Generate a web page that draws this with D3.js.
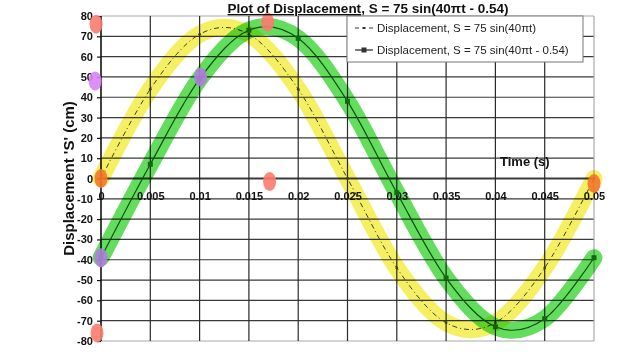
<!DOCTYPE html>
<html lang="en">
<head>
<meta charset="utf-8">
<title>Plot of Displacement</title>
<style>
  body { margin: 0; background: #fff; }
  svg { display: block; font-family: "Liberation Sans", Arial, sans-serif; }
  .tick-y text, .tick-x text { font-weight: bold; font-size: 11px; fill: #111; }
  .band { fill: none; stroke-linecap: round; stroke-linejoin: round; mix-blend-mode: multiply; }
</style>
</head>
<body>
<svg id="chart" width="640" height="360"></svg>
<script src="https://d3js.org/d3.v7.min.js"></script>
<script>
// data
var times = [0, 0.005, 0.01, 0.015, 0.02, 0.025, 0.03, 0.035, 0.04, 0.045, 0.05];
var sPlain = [0, 44, 71, 71, 44, 0, -44, -71, -71, -44, 0];       // S = 75 sin(40πt)
var sShift = [-39, 7, 49, 73, 69, 38, -7, -49, -73, -69, -39];    // S = 75 sin(40πt - 0.54)
var xTicks = [0, 0.005, 0.01, 0.015, 0.02, 0.025, 0.03, 0.035, 0.04, 0.045, 0.05];
var xTickLabels = ['0', '0.005', '0.01', '0.015', '0.02', '0.025', '0.03', '0.035', '0.04', '0.045', '0.05'];
var yTicks = [-80, -70, -60, -50, -40, -30, -20, -10, 0, 10, 20, 30, 40, 50, 60, 70, 80];
var seriesNames = ['Displacement, S = 75 sin(40\u03c0t)', 'Displacement, S = 75 sin(40\u03c0t - 0.54)'];

// hand drawn marker blobs (in data units)
var blobT = [-0.0005, -0.0006, 0, 0, -0.0004, 0.0169, 0.0171, 0.0101, 0.05];
var blobS = [76, 48, 0, -39, -76, 77, -1.5, 50, -2.5];
var blobKind = ['salmon', 'magenta', 'orange', 'purple', 'salmon', 'salmon', 'salmon', 'purple', 'orange'];

var svg = d3.select('#chart');
var plot = {left: 101, right: 594, top: 16, bottom: 341};

var x = d3.scaleLinear().domain([0, 0.05]).range([plot.left, plot.right]);
var y = d3.scaleLinear().domain([-80, 80]).range([plot.bottom, plot.top]);

var blobColor = {salmon: '#f97b6e', magenta: '#d884f2', orange: '#f5762a', purple: '#b07ee0'};

// grid
var grid = svg.append('g');
grid.selectAll('line.h').data(yTicks).enter().append('line')
    .attr('x1', plot.left).attr('x2', plot.right)
    .attr('y1', function(d) { return y(d); }).attr('y2', function(d) { return y(d); })
    .attr('stroke', function(d) { return (d === 80 || d === -80) ? '#aaa' : '#3a3a3a'; })
    .attr('stroke-width', function(d) { return d === 0 ? 1.8 : 1.2; });
grid.selectAll('line.v').data(xTicks).enter().append('line')
    .attr('y1', plot.top).attr('y2', plot.bottom)
    .attr('x1', function(d) { return x(d); }).attr('x2', function(d) { return x(d); })
    .attr('stroke', function(d) { return d === 0.05 ? '#aaa' : (d === 0 ? '#111' : '#2a2a2a'); })
    .attr('stroke-width', function(d) { return d === 0 ? 1.6 : 1.2; });

// axes
var yAxis = svg.append('g').attr('class', 'tick-y')
    .attr('transform', 'translate(' + plot.left + ',0)')
    .call(d3.axisLeft(y).tickValues(yTicks).tickSize(4).tickPadding(4)
        .tickFormat(function(d) { return String(d); }));
yAxis.select('.domain').remove();
yAxis.selectAll('.tick line').attr('stroke', '#111').attr('stroke-width', 1.2);

var xAxis = svg.append('g').attr('class', 'tick-x')
    .attr('transform', 'translate(0,' + y(0) + ')')
    .call(d3.axisBottom(x).tickValues(xTicks).tickSize(0).tickPadding(14)
        .tickFormat(function(d, i) { return xTickLabels[i]; }));
xAxis.select('.domain').remove();

// lines
var line = d3.line()
    .x(function(d, i) { return x(times[i]); })
    .y(function(d) { return y(d); })
    .curve(d3.curveCardinal);

svg.append('path').datum(sPlain)
    .attr('d', line).attr('fill', 'none')
    .attr('stroke', '#444').attr('stroke-width', 1)
    .attr('stroke-dasharray', '5,3,1,3');
svg.selectAll('circle.p1').data(sPlain).enter().append('circle')
    .attr('cx', function(d, i) { return x(times[i]); })
    .attr('cy', function(d) { return y(d); })
    .attr('r', 1.4).attr('fill', '#444');

svg.append('path').datum(sShift)
    .attr('d', line).attr('fill', 'none')
    .attr('stroke', '#1e5e1e').attr('stroke-width', 1.2);
svg.selectAll('rect.p2').data(sShift).enter().append('rect')
    .attr('x', function(d, i) { return x(times[i]) - 2.5; })
    .attr('y', function(d) { return y(d) - 2.5; })
    .attr('width', 5).attr('height', 5).attr('fill', '#2b7a2b');

// highlighter strokes
svg.append('path').datum(sPlain).attr('class', 'band')
    .attr('d', line).attr('stroke', '#f5ef5c').attr('stroke-width', 17).attr('opacity', 0.95);
svg.append('path').datum(sShift).attr('class', 'band')
    .attr('d', line).attr('stroke', '#5cdc56').attr('stroke-width', 17).attr('opacity', 0.95);

// blobs
svg.selectAll('ellipse.blob').data(blobT).enter().append('ellipse')
    .attr('cx', function(d) { return x(d); })
    .attr('cy', function(d, i) { return y(blobS[i]); })
    .attr('rx', 6.5).attr('ry', 9.5)
    .attr('opacity', 0.9)
    .attr('fill', function(d, i) { return blobColor[blobKind[i]]; });

// legend
var lg = svg.append('g').attr('transform', 'translate(347,16)');
lg.append('rect').attr('width', 236).attr('height', 46)
    .attr('fill', '#fff').attr('stroke', '#777').attr('stroke-width', 1);
var rows = lg.selectAll('g.row').data(seriesNames).enter().append('g')
    .attr('transform', function(d, i) { return 'translate(0,' + (12 + i * 22) + ')'; });
rows.append('line').attr('x1', 8).attr('x2', 26).attr('y1', 0).attr('y2', 0)
    .attr('stroke', '#333').attr('stroke-width', function(d, i) { return i ? 1.3 : 1; })
    .attr('stroke-dasharray', function(d, i) { return i ? null : '4,3'; });
rows.append('rect')
    .attr('x', function(d, i) { return i ? 14.5 : 16; })
    .attr('y', function(d, i) { return i ? -2.5 : -1; })
    .attr('width', function(d, i) { return i ? 5 : 2; })
    .attr('height', function(d, i) { return i ? 5 : 2; })
    .attr('fill', '#333');
rows.append('text').attr('x', 30).attr('y', 4)
    .attr('font-size', 11.5).attr('fill', '#222')
    .text(function(d) { return d; });

// titles
var title = svg.append('text').attr('x', 368).attr('y', 13)
    .attr('text-anchor', 'middle').attr('font-size', 13.5).attr('font-weight', 'bold').attr('fill', '#111');
title.append('tspan').attr('text-decoration', 'underline').text('Plot of Displacement');
title.append('tspan').text(', S = 75 sin(40\u03c0t - 0.54)');

svg.append('text').attr('x', 500).attr('y', 166)
    .attr('font-size', 13).attr('font-weight', 'bold').attr('fill', '#111')
    .text('Time (s)');

svg.append('text')
    .attr('transform', 'translate(74,' + (plot.top + plot.bottom) / 2 + ') rotate(-90)')
    .attr('text-anchor', 'middle').attr('font-size', 15).attr('font-weight', 'bold').attr('fill', '#111')
    .text("Displacement 'S' (cm)");
</script>
</body>
</html>
